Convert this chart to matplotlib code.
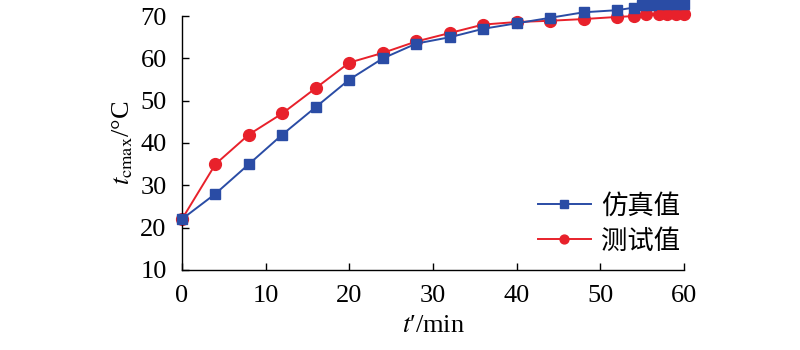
import matplotlib
matplotlib.use('Agg')
import matplotlib.pyplot as plt

plt.rcParams['font.family'] = ['Liberation Serif', 'Noto Sans CJK SC']
plt.rcParams['mathtext.fontset'] = 'stix'

# 仿真值
t_sim = [0, 4, 8, 12, 16, 20, 24, 28, 32, 36, 40, 44, 48, 52, 54, 55, 56, 57, 58, 59, 60]
v_sim = [22, 28, 35, 42, 48.5, 55, 60, 63.5, 65, 67, 68.3, 69.6, 70.9, 71.4, 72, 72.6, 72.7, 72.8, 72.8, 72.8, 72.8]
# 测试值
t_test = [0, 4, 8, 12, 16, 20, 24, 28, 32, 36, 40, 44, 48, 52, 54, 55.5, 57, 58, 59, 60]
v_test = [22, 35, 42, 47, 53, 59, 61.3, 64, 66, 68, 68.6, 68.9, 69.3, 69.8, 70, 70.5, 70.5, 70.5, 70.5, 70.5]

blue = '#2a4ca5'
red = '#e8212b'

fig = plt.figure(figsize=(8, 3.5), dpi=100)
ax = fig.add_axes([0.2275, 0.229, 0.6275, 0.725])

ax.plot(t_sim, v_sim, color=blue, lw=1.4, marker='s', ms=7.5,
        label='仿真值', clip_on=False, zorder=3)
ax.plot(t_test, v_test, color=red, lw=1.4, marker='o', ms=8.5,
        label='测试值', clip_on=False, zorder=2)

ax.set_xlim(0, 60)
ax.set_ylim(10, 70)
ax.set_xticks(range(0, 61, 10))
ax.set_yticks(range(10, 71, 10))
ax.spines['top'].set_visible(False)
ax.spines['right'].set_visible(False)
ax.tick_params(direction='in', labelsize=19, length=5, width=1)
ax.tick_params(axis='x', pad=11)
ax.tick_params(axis='y', pad=11)
for s in ['left', 'bottom']:
    ax.spines[s].set_linewidth(1)

ax.set_xlabel(r"$t$′/min", fontsize=19, labelpad=6)
ax.set_ylabel(r'$t_{\mathrm{cmax}}$/°C', fontsize=19, labelpad=4)

leg = ax.legend(loc='lower right', bbox_to_anchor=(1.04, -0.03), frameon=False,
                fontsize=19, handlelength=2.0, labelspacing=0.4,
                handletextpad=0.4, markerscale=0.75)

fig.savefig('out.png', dpi=100)
